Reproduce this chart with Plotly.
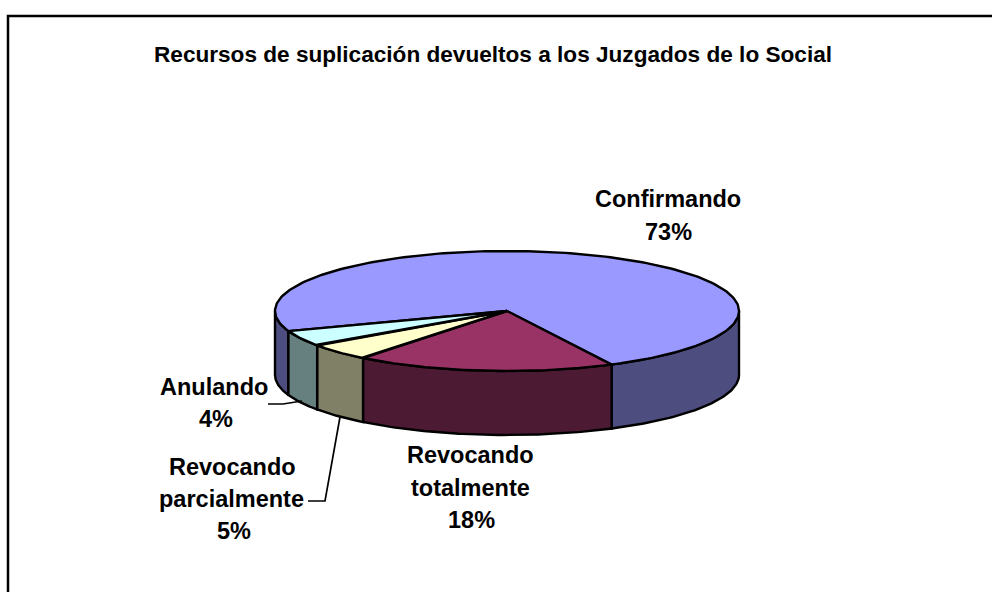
import numpy as np
import plotly.graph_objects as go

categories = ["Confirmando", "Revocando totalmente", "Revocando parcialmente", "Anulando"]
values = [73.0, 18.1, 4.6, 4.3]
top_colors = ["#9999FF", "#993366", "#FFFFCC", "#CCFFFF"]
side_colors = ["#4D4D80", "#4D1A33", "#808066", "#668080"]
title = "Recursos de suplicación devueltos a los Juzgados de lo Social"
label_names = [["Confirmando"], ["Revocando", "totalmente"], ["Revocando", "parcialmente"], ["Anulando"]]
label_x = [[667.5, 668], [470, 470, 471], [232, 231, 234], [214, 216]]
label_y = [[199, 232], [455, 487.5, 520], [467, 499, 531], [387, 419]]

W, H = 992, 592
CX, CY, A, B, DEPTH = 507, 311, 232, 60, 64
START_DEG = 160.4
FONT = "Liberation Sans"

def ell(t, dy=0):
    r = np.radians(t)
    return CX + A * np.cos(r), CY + B * np.sin(r) + dy

def poly(fig, xs, ys, fill):
    fig.add_trace(go.Scatter(x=list(xs), y=list(ys), mode="lines", fill="toself",
                             fillcolor=fill, line=dict(color="black", width=2.4),
                             hoverinfo="skip", showlegend=False))

fig = go.Figure()
edges = START_DEG + np.concatenate([[0], np.cumsum(values)]) * 3.6

# side walls: only the front half of the cylinder (t in 0..180, modulo 360)
for i in range(len(values)):
    t0, t1 = edges[i], edges[i + 1]
    for lo, hi in [(t0, t1), (t0 - 360, t1 - 360)]:
        a, b = max(lo, 0), min(hi, 180)
        if a < b:
            ts = np.linspace(a, b, 80)
            x, y = ell(ts)
            xb, yb = ell(ts[::-1], DEPTH)
            poly(fig, np.r_[x, xb, x[0]], np.r_[y, yb, y[0]], side_colors[i])

# top face
for i in range(len(values)):
    ts = np.linspace(edges[i], edges[i + 1], 200)
    x, y = ell(ts)
    poly(fig, np.r_[CX, x, CX], np.r_[CY, y, CY], top_colors[i])

# leader lines
leaders = [([268, 283, 302], [404, 404, 401]), ([308, 325, 340], [501, 501, 417])]
for lx, ly in leaders:
    fig.add_trace(go.Scatter(x=lx, y=ly, mode="lines", line=dict(color="black", width=1.7),
                             hoverinfo="skip", showlegend=False))

# labels: name lines followed by the rounded percentage
for names, v, xs, ys in zip(label_names, values, label_x, label_y):
    for s, lx, ly in zip(names + [f"{round(v)}%"], xs, ys):
        fig.add_annotation(x=lx, y=ly, text=f"<b>{s}</b>", showarrow=False,
                           font=dict(family=FONT, size=23.5, color="black"),
                           xanchor="center", yanchor="middle")

fig.add_annotation(x=492.5, y=54, text=f"<b>{title}</b>", showarrow=False,
                   font=dict(family=FONT, size=22.6, color="black"),
                   xanchor="center", yanchor="middle")

fig.add_shape(type="rect", x0=8, y0=16, x1=1100, y1=700, line=dict(color="black", width=2.5), layer="below")

fig.update_layout(width=W, height=H, margin=dict(l=0, r=0, t=0, b=0),
                  paper_bgcolor="white", plot_bgcolor="white",
                  xaxis=dict(range=[0, W], visible=False, fixedrange=True),
                  yaxis=dict(range=[H, 0], visible=False, fixedrange=True))
fig.write_html("out.html", config={"displayModeBar": False},
               post_script="document.body.style.margin='0';document.body.style.overflow='hidden';")
